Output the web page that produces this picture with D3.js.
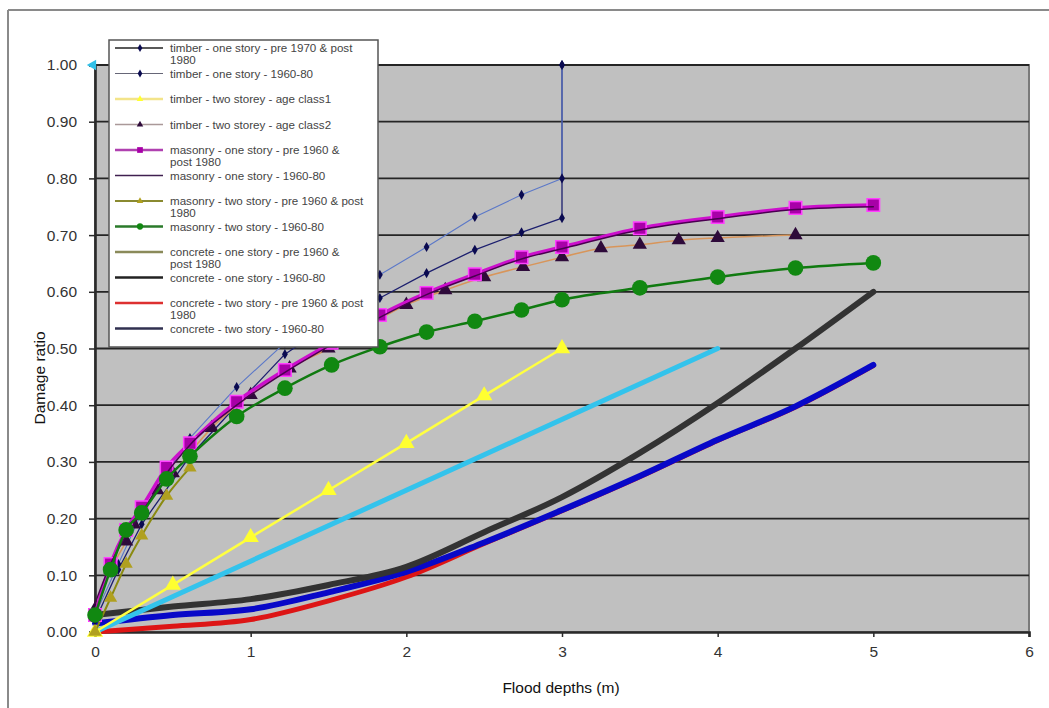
<!DOCTYPE html>
<html>
<head>
<meta charset="utf-8">
<script src="https://cdn.jsdelivr.net/npm/d3@7"></script>
<style>
  body { margin: 0; background: #fff; }
  svg { font-family: "Liberation Sans", Arial, sans-serif; }
</style>
</head>
<body>
<svg width="1049" height="708"></svg>
<script>
// series names as they appear in the legend (wrapped as in the picture)
var legendLines = [
    ["timber - one story - pre 1970 & post", "1980"],
    ["timber - one story - 1960-80"],
    ["timber - two storey - age class1"],
    ["timber - two storey - age class2"],
    ["masonry - one story - pre 1960 &", "post 1980"],
    ["masonry - one story - 1960-80"],
    ["masonry - two story - pre 1960 & post", "1980"],
    ["masonry - two story - 1960-80"],
    ["concrete - one story - pre 1960 &", "post 1980"],
    ["concrete - one story - 1960-80"],
    ["concrete - two story - pre 1960 & post", "1980"],
    ["concrete - two story - 1960-80"]
];

var yTicks = [0, 0.1, 0.2, 0.3, 0.4, 0.5, 0.6, 0.7, 0.8, 0.9, 1.0];
var xTicks = [0, 1, 2, 3, 4, 5, 6];

// depths (m)
var timberOneX   = [0, 0.15, 0.3, 0.61, 0.91, 1.22, 1.52, 1.83, 2.13, 2.44, 2.74, 3.0, 3.0];
var timberOneA   = [0.02, 0.11, 0.19, 0.31, 0.40, 0.49, 0.545, 0.589, 0.633, 0.674, 0.705, 0.73, 1.0];
var timberOneB   = [0.03, 0.12, 0.21, 0.342, 0.432, 0.51, 0.575, 0.63, 0.679, 0.732, 0.771, 0.80, 1.0];

var timberTwoX1  = [0, 0.5, 1, 1.5, 2, 2.5, 3];
var timberTwoY1  = [0, 0.083, 0.167, 0.25, 0.333, 0.417, 0.5];

var timberTwoX2  = [0, 0.1, 0.2, 0.25, 0.3, 0.4, 0.5, 0.75, 1.0, 1.25, 1.5, 1.75, 2.0, 2.25, 2.5, 2.75, 3.0, 3.25, 3.5, 3.75, 4.0, 4.5];
var timberTwoY2  = [0.04, 0.11, 0.16, 0.19, 0.21, 0.25, 0.28, 0.36, 0.418, 0.465, 0.50, 0.54, 0.577, 0.603, 0.626, 0.644, 0.661, 0.677, 0.683, 0.691, 0.695, 0.70];

var masonryX     = [0, 0.1, 0.2, 0.3, 0.46, 0.61, 0.91, 1.22, 1.52, 1.83, 2.13, 2.44, 2.74, 3.0, 3.5, 4.0, 4.5, 5.0];
var masonryOneA  = [0.03, 0.12, 0.18, 0.22, 0.29, 0.333, 0.406, 0.462, 0.51, 0.559, 0.598, 0.631, 0.661, 0.679, 0.712, 0.732, 0.748, 0.753];
var masonryOneB  = [0.05, 0.12, 0.17, 0.21, 0.28, 0.33, 0.40, 0.458, 0.507, 0.555, 0.595, 0.628, 0.658, 0.676, 0.709, 0.729, 0.745, 0.75];
var masonryTwoA  = [0.0, 0.06, 0.12, 0.17, 0.24, 0.29];
var masonryTwoB  = [0.03, 0.11, 0.18, 0.21, 0.27, 0.31, 0.38, 0.43, 0.471, 0.503, 0.529, 0.548, 0.568, 0.586, 0.607, 0.626, 0.642, 0.651];

var concreteX    = [0, 0.5, 1, 1.5, 2, 2.5, 3, 3.5, 4, 4.5, 5];
var concreteOneA = [[0, 0], [4, 0.5]];
var concreteOneB = [0.03, 0.045, 0.058, 0.083, 0.115, 0.176, 0.238, 0.316, 0.404, 0.50, 0.60];
var concreteTwoA = [0, 0.01, 0.022, 0.055, 0.097, 0.156, 0.214, 0.274, 0.338, 0.397, 0.47];
var concreteTwoB = [0.015, 0.03, 0.04, 0.07, 0.106, 0.158, 0.215, 0.275, 0.339, 0.398, 0.471];

var cyanMarker = [[0, 1.0]];

function zip(xs, ys) { return xs.map(function(x, i) { return [x, ys[i]]; }); }

var series = [
    zip(timberOneX, timberOneA),
    zip(timberOneX, timberOneB),
    zip(timberTwoX1, timberTwoY1),
    zip(timberTwoX2, timberTwoY2),
    zip(masonryX, masonryOneA),
    zip(masonryX, masonryOneB),
    zip(masonryX.slice(0, masonryTwoA.length), masonryTwoA),
    zip(masonryX, masonryTwoB),
    concreteOneA,
    zip(concreteX, concreteOneB),
    zip(concreteX, concreteTwoA),
    zip(concreteX, concreteTwoB)
];

// look of each series (index matches legend)
var looks = [
    {line: "#1c1f6e", w: 1.3, mark: "diamond", fill: "#0a0a50", size: 7, lg: "#222", curve: d3.curveLinear},
    {line: "#5b78c8", w: 1.1, mark: "diamond", fill: "#0a0a50", size: 7, lg: "#667", curve: d3.curveLinear},
    {line: "#ffff40", w: 2.5, mark: "triangle", fill: "#ffff30", size: 16, lg: "#f3e48a", curve: d3.curveLinear},
    {line: "#d8955a", w: 1.5, mark: "triangle", fill: "#2e0a3a", size: 14, lg: "#a99", curve: d3.curveMonotoneX},
    {line: "#cc10cc", w: 3.5, mark: "square", fill: "#a800a8", stroke: "#ff40ff", size: 14, lg: "#b040b0", curve: d3.curveMonotoneX},
    {line: "#4a0050", w: 1.5, mark: "none", size: 0, lg: "#402050", curve: d3.curveMonotoneX},
    {line: "#8a8a10", w: 2, mark: "triangle", fill: "#b0a020", size: 13, lg: "#8a8a30", curve: d3.curveMonotoneX},
    {line: "#107a10", w: 2.5, mark: "circle", fill: "#118811", size: 16, lg: "#2a7a2a", curve: d3.curveMonotoneX},
    {line: "#33c3ec", w: 5, mark: "none", size: 0, lg: "#8a8a5a", curve: d3.curveLinear},
    {line: "#333333", w: 6, mark: "none", size: 0, lg: "#222", curve: d3.curveMonotoneX},
    {line: "#dd1515", w: 5, mark: "none", size: 0, lg: "#dd3030", curve: d3.curveMonotoneX},
    {line: "#0808c8", w: 6, mark: "none", size: 0, lg: "#303050", curve: d3.curveMonotoneX}
];
var drawOrder = [10, 11, 9, 8, 2, 0, 1, 3, 6, 4, 5, 7];

var svg = d3.select("svg"),
    width = +svg.attr("width"),
    height = +svg.attr("height");

var x = d3.scaleLinear().domain([0, 6]).range([95, 1029]);
var y = d3.scaleLinear().domain([0, 1]).range([632, 65]);

// outer frame
svg.append("line").attr("x1", 8).attr("y1", 10).attr("x2", width).attr("y2", 10)
    .attr("stroke", "#8a8a8a").attr("stroke-width", 2);
svg.append("line").attr("x1", 8).attr("y1", 10).attr("x2", 8).attr("y2", height)
    .attr("stroke", "#8a8a8a").attr("stroke-width", 2);

// plot area
svg.append("rect")
    .attr("x", x(0)).attr("y", y(1))
    .attr("width", x(6) - x(0)).attr("height", y(0) - y(1))
    .attr("fill", "#c0c0c0").attr("stroke", "#7a7a7a").attr("stroke-width", 2);

svg.append("g").selectAll("line")
    .data(yTicks.slice(1))
    .enter().append("line")
    .attr("x1", x(0)).attr("x2", x(6))
    .attr("y1", function(d) { return y(d); })
    .attr("y2", function(d) { return y(d); })
    .attr("stroke", "#252525").attr("stroke-width", 1.8);

var xAxis = svg.append("g")
    .attr("transform", "translate(0," + y(0) + ")")
    .call(d3.axisBottom(x).tickValues(xTicks).tickFormat(d3.format("d")).tickSize(5).tickPadding(9));
var yAxis = svg.append("g")
    .attr("transform", "translate(" + x(0) + ",0)")
    .call(d3.axisLeft(y).tickValues(yTicks).tickFormat(d3.format(".2f")).tickSize(6).tickPadding(12));
[xAxis, yAxis].forEach(function(a) {
    a.select(".domain").attr("stroke", "#2a2a2a").attr("stroke-width", 2.6);
    a.selectAll(".tick line").attr("stroke", "#2a2a2a").attr("stroke-width", 1.5);
    a.selectAll(".tick text").attr("fill", "#333").style("font-size", "15.5px");
});

function markerPath(kind, size) {
    if (kind === "triangle") return d3.symbol().type(d3.symbolTriangle).size(size * size * 0.45)();
    if (kind === "square") return d3.symbol().type(d3.symbolSquare).size(size * size * 0.8)();
    if (kind === "circle") return d3.symbol().type(d3.symbolCircle).size(size * size * 0.75)();
    if (kind === "diamond") return d3.symbol().type(d3.symbolDiamond).size(size * size * 0.6)();
    return null;
}

var plot = svg.append("g");
drawOrder.forEach(function(i) {
    var lk = looks[i];
    var line = d3.line()
        .curve(lk.curve)
        .x(function(d) { return x(d[0]); })
        .y(function(d) { return y(d[1]); });
    var g = plot.append("g");
    g.append("path")
        .datum(series[i])
        .attr("fill", "none")
        .attr("stroke", lk.line)
        .attr("stroke-width", lk.w)
        .attr("stroke-linejoin", "round")
        .attr("stroke-linecap", "round")
        .attr("d", line);
    if (lk.mark !== "none") {
        g.selectAll("path.m")
            .data(series[i])
            .enter().append("path")
            .attr("class", "m")
            .attr("transform", function(d) { return "translate(" + x(d[0]) + "," + y(d[1]) + ")"; })
            .attr("d", markerPath(lk.mark, lk.size))
            .attr("fill", lk.fill)
            .attr("stroke", lk.stroke || "none")
            .attr("stroke-width", 1.5);
    }
});

plot.selectAll("path.cy")
    .data(cyanMarker)
    .enter().append("path")
    .attr("class", "cy")
    .attr("transform", function(d) { return "translate(" + (x(d[0]) - 2) + "," + y(d[1]) + ") rotate(-90)"; })
    .attr("d", d3.symbol().type(d3.symbolTriangle).size(50)())
    .attr("fill", "#30c0e8");

// legend
var legend = svg.append("g");
legend.append("rect")
    .attr("x", 109).attr("y", 40).attr("width", 269).attr("height", 307)
    .attr("fill", "#fff").attr("stroke", "#555").attr("stroke-width", 1.5);

var items = legend.selectAll("g.item")
    .data(legendLines)
    .enter().append("g")
    .attr("class", "item")
    .attr("transform", function(d, i) { return "translate(0," + (48 + i * 25.5) + ")"; });

items.append("line")
    .attr("x1", 115).attr("x2", 163)
    .attr("stroke", function(d, i) { return looks[i].lg; })
    .attr("stroke-width", function(d, i) { return Math.min(looks[i].w, 2.5); });

items.append("path")
    .attr("transform", "translate(140,0)")
    .attr("d", function(d, i) {
        var lk = looks[i];
        return lk.mark === "none" ? null : markerPath(lk.mark, Math.min(lk.size, 8) * 0.8);
    })
    .attr("fill", function(d, i) { return looks[i].fill || "none"; });

items.append("text")
    .attr("x", 170)
    .attr("fill", "#444")
    .style("font-size", "11.6px")
    .selectAll("tspan")
    .data(function(d) { return d; })
    .enter().append("tspan")
    .attr("x", 170)
    .attr("y", function(d, j) { return 4 + j * 12; })
    .text(function(d) { return d; });

// axis titles
svg.append("text")
    .attr("transform", "translate(45,378) rotate(-90)")
    .attr("text-anchor", "middle")
    .attr("fill", "#111")
    .style("font-size", "15.5px")
    .text("Damage ratio");

svg.append("text")
    .attr("x", 561).attr("y", 693)
    .attr("text-anchor", "middle")
    .attr("fill", "#111")
    .style("font-size", "15.5px")
    .text("Flood depths (m)");
</script>
</body>
</html>
